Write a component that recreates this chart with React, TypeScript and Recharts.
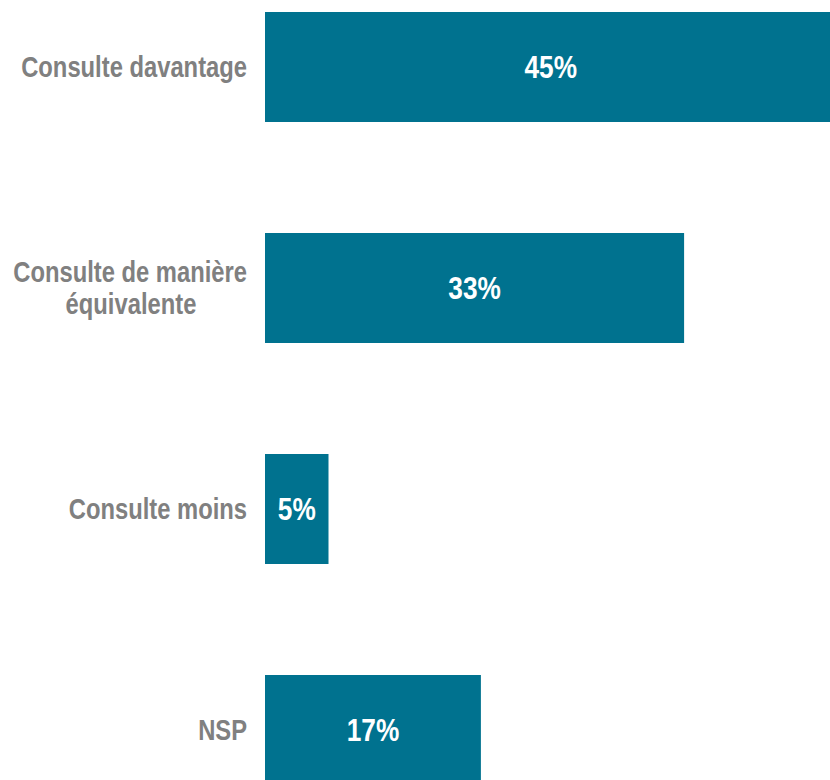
import { BarChart, Bar, XAxis, YAxis, LabelList } from "recharts";

const categories = ["Consulte davantage", "Consulte de manière|équivalente", "Consulte moins", "NSP"];
const values = [45, 33, 5, 17];

const data = categories.map((name, i) => ({ name, value: values[i] }));

// no Arial Narrow available: squeeze Liberation Sans bold horizontally
const FONT = "'Liberation Sans', Arial, sans-serif";
const NARROW = 0.82;

function Narrow({ x, y, anchor, size, fill, children }: any) {
  return (
    <g transform={`translate(${x},${y}) scale(${NARROW},1)`}>
      <text x={0} y={0} textAnchor={anchor} fill={fill} fontFamily={FONT} fontWeight={700} fontSize={size}>
        {children}
      </text>
    </g>
  );
}

// two-line labels: first line right-aligned, second centred under it
function CategoryTick(props: any) {
  const { x, y, payload } = props;
  const lines = String(payload.value).split("|");
  if (lines.length === 1) {
    return (
      <Narrow x={x} y={y + 10} anchor="end" size={29} fill="#808080">
        {lines[0]}
      </Narrow>
    );
  }
  return (
    <g>
      <Narrow x={x} y={y - 6} anchor="end" size={29} fill="#808080">
        {lines[0]}
      </Narrow>
      <Narrow x={x - 116} y={y + 26} anchor="middle" size={29} fill="#808080">
        {lines[1]}
      </Narrow>
    </g>
  );
}

function ValueLabel(props: any) {
  const { x, y, width, height, value } = props;
  return (
    <Narrow x={x + width / 2} y={y + height / 2 + 11} anchor="middle" size={32} fill="#ffffff">
      {`${value}%`}
    </Narrow>
  );
}

export default function App() {
  return (
    <div style={{ position: "fixed", left: 0, top: 0, width: 830, height: 780, overflow: "hidden", background: "#fff" }}>
      <div style={{ position: "absolute", left: 0, top: -44 }}>
        <BarChart
          width={900}
          height={884}
          data={data}
          layout="vertical"
          margin={{ top: 0, right: 0, bottom: 0, left: 0 }}
        >
          <XAxis type="number" domain={[0, 50]} hide />
          <YAxis
            type="category"
            dataKey="name"
            width={265}
            axisLine={false}
            tickLine={false}
            tickSize={0}
            tickMargin={18}
            tick={<CategoryTick />}
            interval={0}
          />
          <Bar dataKey="value" fill="#00728F" barSize={110} isAnimationActive={false}>
            <LabelList dataKey="value" content={<ValueLabel />} />
          </Bar>
        </BarChart>
      </div>
    </div>
  );
}
